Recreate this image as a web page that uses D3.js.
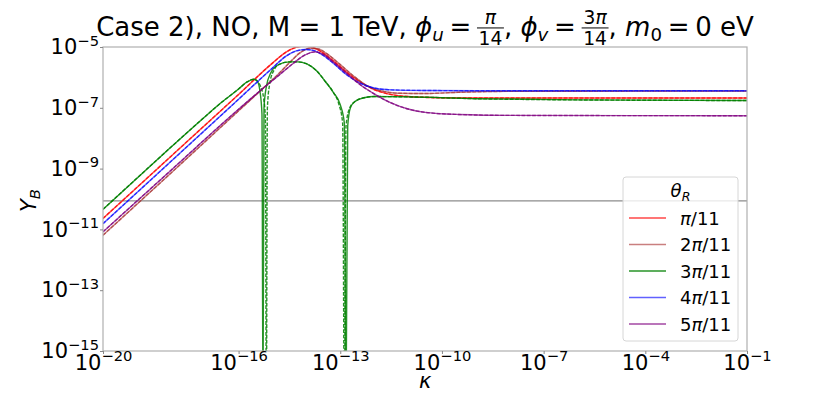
<!DOCTYPE html>
<html>
<head>
<meta charset="utf-8">
<script src="https://cdn.jsdelivr.net/npm/d3@7"></script>
<style>
body { margin: 0; background: #fff; }
text { font-family: "DejaVu Sans", sans-serif; white-space: pre; }
</style>
</head>
<body>
<div id="chart"></div>
<script>
// values are log10 exponents: [log10(kappa), log10(Y_B)]
const kappaTicks = [-20, -16, -13, -10, -7, -4, -1];
const ybTicks = [-15, -13, -11, -9, -7, -5];
const observedYB = -10.064;

const redSolid = [[-20,-10.64],[-18,-8.6],[-16,-6.56],[-15,-5.53],[-14.6,-5.17],[-14.3,-5.01],[-14.05,-4.97],[-13.8,-5.02],[-13.5,-5.2],[-13.2,-5.46],[-12.8,-5.84],[-12.4,-6.16],[-12,-6.4],[-11.6,-6.54],[-11,-6.63],[-10,-6.67],[-8,-6.68],[-1,-6.68]];
const redDashed = redSolid;

const brownSolid = [[-20,-11.19],[-18,-9.15],[-16,-7.1],[-15.3,-6.38],[-14.9,-5.97],[-14.5,-5.52],[-14.2,-5.2],[-13.9,-5.04],[-13.65,-5.06],[-13.4,-5.22],[-13,-5.58],[-12.6,-5.96],[-12.2,-6.28],[-11.8,-6.44],[-11.3,-6.52],[-10.5,-6.53],[-9.5,-6.49],[-8,-6.46],[-1,-6.45]];
const brownDashed = brownSolid;

const greenSolid = [[-20,-10.34],[-18,-8.3],[-17,-7.3],[-16.5,-6.82],[-16,-6.38],[-15.75,-6.15],[-15.55,-6.06],[-15.45,-6.12],[-15.37,-6.45],[-15.31,-7.2],[-15.28,-17],[-15.25,-7.0],[-15.18,-6.3],[-15.05,-5.85],[-14.85,-5.6],[-14.5,-5.49],[-14.25,-5.49],[-14,-5.55],[-13.7,-5.78],[-13.43,-6.15],[-13.2,-6.5],[-13,-6.9],[-12.88,-7.5],[-12.83,-17],[-12.78,-7.6],[-12.7,-7.0],[-12.55,-6.78],[-12.3,-6.67],[-12,-6.63],[-11,-6.64],[-9,-6.7],[-6,-6.74],[-1,-6.76]];
const greenDashed = [[-20,-10.34],[-18,-8.3],[-17,-7.3],[-16.5,-6.82],[-16,-6.38],[-15.75,-6.15],[-15.55,-6.06],[-15.45,-6.12],[-15.35,-6.3],[-15.26,-6.7],[-15.21,-7.3],[-15.18,-17],[-15.15,-7.0],[-15.08,-6.2],[-14.95,-5.75],[-14.85,-5.6],[-14.5,-5.49],[-14.25,-5.49],[-14,-5.55],[-13.7,-5.78],[-13.43,-6.15],[-13.2,-6.5],[-13.05,-6.85],[-12.93,-7.5],[-12.88,-17],[-12.83,-7.6],[-12.72,-7.0],[-12.55,-6.78],[-12.3,-6.67],[-12,-6.63],[-11,-6.64],[-9,-6.7],[-6,-6.74],[-1,-6.76]];

const blueSolid = [[-20,-10.81],[-18,-8.77],[-16,-6.72],[-15,-5.69],[-14.6,-5.3],[-14.3,-5.13],[-14,-5.08],[-13.75,-5.13],[-13.5,-5.28],[-13.2,-5.54],[-12.8,-5.92],[-12.4,-6.2],[-12,-6.35],[-11.5,-6.41],[-10.5,-6.43],[-8,-6.44],[-1,-6.44]];
const blueDashed = blueSolid;

const purpleSolid = [[-20,-11.08],[-18,-9.06],[-16,-7.05],[-15.3,-6.38],[-14.8,-5.92],[-14.4,-5.55],[-14.05,-5.27],[-13.75,-5.16],[-13.5,-5.24],[-13.2,-5.5],[-12.8,-5.88],[-12.4,-6.25],[-12,-6.54],[-11.5,-6.84],[-11,-7.04],[-10.5,-7.15],[-9.5,-7.22],[-8,-7.25],[-1,-7.26]];
const purpleDashed = purpleSolid;

// theta_R labels: [upright prefix, italic pi, upright suffix]
const thetaLabels = [["", "π", "/11"], ["2", "π", "/11"], ["3", "π", "/11"], ["4", "π", "/11"], ["5", "π", "/11"]];
const solidSeries = [redSolid, brownSolid, greenSolid, blueSolid, purpleSolid];
const dashedSeries = [redDashed, brownDashed, greenDashed, blueDashed, purpleDashed];

const lineColors = ["#ff0000", "#a52a2a", "#008000", "#0000ff", "#800080"];
const lineAlpha = [0.72, 0.6, 0.85, 0.62, 0.72];

let margin = {top: 47, left: 103, right: 84, bottom: 43};
let width = 831 - margin.left - margin.right;
let height = 394 - margin.top - margin.bottom;

let x = d3.scaleLog().domain([1e-20, 1e-1]).range([0, width]);
let y = d3.scaleLog().domain([1e-15, 1e-5]).range([height, 0]);

let line = d3.line()
    .x(d => x(Math.pow(10, d[0])))
    .y(d => y(Math.pow(10, d[1])))
    .curve(d3.curveMonotoneX);

// lays out a little mathtext-like row, baseline at 0, returns its width
function mathText(g, parts, size) {
    let cx = 0;
    parts.forEach(p => {
        if (p.gap) { cx += p.gap * size; return; }
        if (p.frac) {
            let fs = size * 0.72;
            let gn = g.append("g"), gd = g.append("g");
            let wn = mathText(gn, p.frac[0], fs);
            let wd = mathText(gd, p.frac[1], fs);
            let w = Math.max(wn, wd) + size * 0.12;
            gn.attr("transform", `translate(${cx + (w - wn) / 2},${-size * 0.47})`);
            gd.attr("transform", `translate(${cx + (w - wd) / 2},${size * 0.36})`);
            g.append("line")
                .attr("x1", cx).attr("x2", cx + w)
                .attr("y1", -size * 0.31).attr("y2", -size * 0.31)
                .attr("stroke", "#000").attr("stroke-width", 1);
            cx += w;
            return;
        }
        let fs = (p.sub || p.sup) ? size * 0.7 : size;
        let dy = p.sub ? size * 0.2 : (p.sup ? -size * 0.4 : 0);
        let t = g.append("text")
            .attr("x", cx).attr("y", dy)
            .attr("font-size", fs)
            .attr("font-style", p.it ? "italic" : null)
            .text(p.t);
        cx += t.node().getComputedTextLength();
    });
    return cx;
}

let svg = d3.select("#chart").append("svg")
    .attr("width", 831)
    .attr("height", 394);

let group = svg.append("g")
    .attr("transform", "translate(" + margin.left + "," + margin.top + ")");

svg.append("clipPath").attr("id", "plot-clip")
    .append("rect").attr("width", width).attr("height", height);

// observed baryon asymmetry
group.append("line")
    .attr("x1", 0).attr("x2", width)
    .attr("y1", y(Math.pow(10, observedYB))).attr("y2", y(Math.pow(10, observedYB)))
    .attr("stroke", "#8c8c8c").attr("stroke-width", 1.2);

let curves = group.append("g").attr("clip-path", "url(#plot-clip)");
solidSeries.forEach((s, i) => {
    curves.append("path")
        .attr("d", line(s))
        .attr("fill", "none")
        .attr("stroke", lineColors[i])
        .attr("stroke-opacity", lineAlpha[i])
        .attr("stroke-width", 1.4);
    curves.append("path")
        .attr("d", line(dashedSeries[i]))
        .attr("fill", "none")
        .attr("stroke", lineColors[i])
        .attr("stroke-opacity", lineAlpha[i])
        .attr("stroke-width", 1.4)
        .attr("stroke-dasharray", "3.7,1.6");
});

// frame
group.append("rect")
    .attr("width", width).attr("height", height)
    .attr("fill", "none").attr("stroke", "#b0b0b0").attr("stroke-width", 1.2);

let xAxis = d3.axisBottom(x)
    .tickValues(kappaTicks.map(e => Math.pow(10, e)))
    .tickSize(3).tickSizeOuter(0).tickPadding(1);

let yAxis = d3.axisLeft(y)
    .tickValues(ybTicks.map(e => Math.pow(10, e)))
    .tickSize(3).tickSizeOuter(0).tickPadding(1);

function powerLabels(sel) {
    sel.select(".domain").remove();
    sel.attr("font-size", 21).attr("font-family", "DejaVu Sans");
    sel.selectAll(".tick line").attr("stroke", "#888");
    sel.selectAll(".tick text").each(function(d) {
        let e = Math.round(Math.log10(d));
        let t = d3.select(this).text(null).attr("fill", "#000");
        t.append("tspan").text("10");
        t.append("tspan").attr("font-size", "0.7em").attr("dy", "-0.58em").text("\u2212" + (-e));
    });
}

group.append("g")
    .attr("class", "x-axis axis")
    .attr("transform", "translate(0," + height + ")")
    .call(xAxis)
    .call(powerLabels);

group.append("g")
    .attr("class", "y-axis axis")
    .call(yAxis)
    .call(powerLabels);

// axis labels
mathText(svg.append("g").attr("transform", "translate(" + (margin.left + width / 2 - 6) + ",388)"),
    [{t: "κ", it: true}], 21);

let ylab = svg.append("g").attr("transform", "translate(36,212) rotate(-90)");
mathText(ylab, [{t: "Y", it: true}, {t: "B", it: true, sub: true}], 21);

// title
let titleG = svg.append("g");
let tw = mathText(titleG, [
    {t: "Case 2), NO, M = 1 TeV, "},
    {t: "ϕ", it: true}, {t: "u", it: true, sub: true},
    {gap: 0.22}, {t: "="}, {gap: 0.22},
    {frac: [[{t: "π", it: true}], [{t: "14"}]]},
    {t: ", "},
    {t: "ϕ", it: true}, {t: "v", it: true, sub: true},
    {gap: 0.22}, {t: "="}, {gap: 0.22},
    {frac: [[{t: "3"}, {t: "π", it: true}], [{t: "14"}]]},
    {t: ", "},
    {t: "m", it: true}, {t: "0", sub: true},
    {gap: 0.22}, {t: "="}, {gap: 0.22},
    {t: "0 eV"}
], 26);
titleG.attr("transform", "translate(" + (margin.left + width / 2 - tw / 2) + ",36)");

// legend
let legend = svg.append("g").attr("transform", "translate(623,177)");
legend.append("rect")
    .attr("width", 115).attr("height", 164).attr("rx", 3)
    .attr("fill", "#fff").attr("fill-opacity", 0.8)
    .attr("stroke", "#d6d6d6").attr("stroke-width", 1);

let lt = legend.append("g");
let ltw = mathText(lt, [{t: "θ", it: true}, {t: "R", it: true, sub: true}], 18);
lt.attr("transform", "translate(" + (57.5 - ltw / 2) + ",20)");

thetaLabels.forEach((lab, i) => {
    let yy = 41 + i * 26.5;
    legend.append("line")
        .attr("x1", 6).attr("x2", 43)
        .attr("y1", yy).attr("y2", yy)
        .attr("stroke", lineColors[i])
        .attr("stroke-opacity", lineAlpha[i])
        .attr("stroke-width", 1.6);
    let eg = legend.append("g").attr("transform", "translate(57," + (yy + 6.5) + ")");
    mathText(eg, [{t: lab[0]}, {t: lab[1], it: true}, {t: lab[2]}], 18);
});
</script>
</body>
</html>
